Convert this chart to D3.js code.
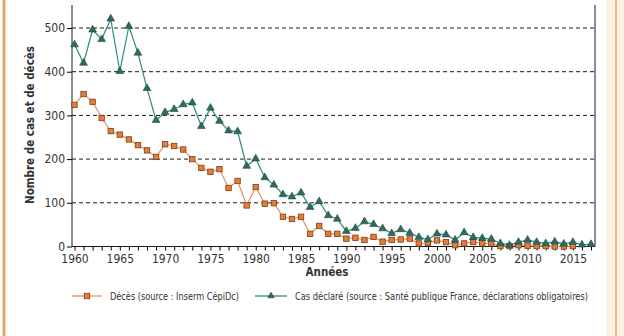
<!DOCTYPE html>
<html><head><meta charset="utf-8">
<script src="https://cdn.jsdelivr.net/npm/d3@7"></script>
<style>body{margin:0;background:#fff}svg{display:block}</style>
</head><body><svg id="c" width="624" height="336"></svg>
<script>
const years = d3.range(1960, 2018);
const decesYears = d3.range(1960, 2016);
const deces = [324,349,331,294,264,256,245,232,220,205,
  234,230,222,200,180,171,177,134,150,94,
  136,98,99,68,63,68,29,47,29,29,
  18,20,15,22,11,15,16,18,7,8,
  14,10,3,7,10,7,7,1,1,3,
  2,1,1,0,0,1];
const cas = [462,420,496,474,521,401,504,443,362,289,
  307,314,325,329,275,317,287,265,263,184,
  201,158,141,119,114,123,90,103,71,63,
  35,42,57,51,41,30,39,31,21,16,
  29,27,15,32,21,19,17,7,3,10,
  15,10,7,11,6,10,4,5];
const yTicks = [0,100,200,300,400,500];
const xTicks = [1960,1965,1970,1975,1980,1985,1990,1995,2000,2005,2010,2015];
const legendLabels = ["Décès (source : Inserm CépiDc)", "Cas déclaré (source : Santé publique France, déclarations obligatoires)"];

const svg = d3.select("#c");
const L = 72, R = 595, B = 246.5, T = 5;
const x = d3.scaleLinear().domain([1960, 2017]).range([74.5, 591]);
const y = d3.scaleLinear().domain([0, 500]).range([B, 28]);
const font = "'DejaVu Sans Condensed','Liberation Sans Narrow','Roboto',sans-serif";
const narrow = "'Liberation Sans Narrow','DejaVu Sans Condensed',sans-serif";

// page border decoration
svg.append("line").attr("x1",4).attr("x2",4).attr("y1",0).attr("y2",336).attr("stroke","#e2a86e").attr("stroke-width",3);
svg.append("rect").attr("x",606).attr("y",0).attr("width",18).attr("height",336).attr("fill","#fdf1e3");
svg.append("line").attr("x1",616).attr("x2",616).attr("y1",0).attr("y2",336).attr("stroke","#e8b888").attr("stroke-width",2);

// gridlines
svg.append("g").selectAll("line").data(yTicks.filter(d=>d>0)).join("line")
  .attr("x1",L).attr("x2",R).attr("y1",d=>y(d)).attr("y2",d=>y(d))
  .attr("stroke","#1a1a1a").attr("stroke-width",1).attr("stroke-dasharray","4,3");

// right frame
svg.append("line").attr("x1",R).attr("x2",R).attr("y1",T).attr("y2",B).attr("stroke","#1a1a1a");

// y axis
const ya = svg.append("g").attr("transform",`translate(${L},0)`)
  .call(d3.axisLeft(y).tickValues(yTicks).tickSize(5).tickPadding(2).tickSizeOuter(0));
ya.select(".domain").attr("d",`M0,${T}V${B}`).attr("stroke","#1a1a1a");
ya.selectAll("text").attr("font-family",font).attr("font-size",12).attr("fill","#333");

// x axis
const xa = svg.append("g").attr("transform",`translate(0,${B})`)
  .call(d3.axisBottom(x).tickValues(years).tickSize(4).tickFormat(""));
xa.select(".domain").attr("d",`M${L},0H${R}`).attr("stroke","#1a1a1a");
const xl = svg.append("g").attr("transform",`translate(0,${B})`)
  .call(d3.axisBottom(x).tickValues(xTicks).tickSize(0).tickPadding(8).tickFormat(d3.format("d")));
xl.select(".domain").remove();
xl.selectAll("text").attr("font-family",font).attr("font-size",12).attr("fill","#333");

// axis titles
svg.append("text").attr("x",327).attr("y",276).attr("text-anchor","middle")
  .attr("font-family",font).attr("font-weight","bold").attr("font-size",11.5).attr("fill","#333").text("Années");
svg.append("text").attr("transform","translate(34,125) rotate(-90)").attr("text-anchor","middle")
  .attr("font-family",font).attr("font-weight","bold").attr("font-size",11.5).attr("fill","#333").text("Nombre de cas et de décès");

const orangeLine = "#e0935c", orangeFill = "#e47d3c", orangeStroke = "#7e3e14";
const tealLine = "#2f8a80", tealFill = "#2e6b60", tealStroke = "#1c4840";
const tri = d3.symbol().type(d3.symbolTriangle).size(26);

const line = d3.line().x(d=>x(d[0])).y(d=>y(d[1]));
const dData = decesYears.map((yr,i)=>[yr,deces[i]]);
const cData = years.map((yr,i)=>[yr,cas[i]]);

svg.append("path").datum(dData).attr("d",line).attr("fill","none").attr("stroke",orangeLine).attr("stroke-width",1.2);
svg.append("path").datum(cData).attr("d",line).attr("fill","none").attr("stroke",tealLine).attr("stroke-width",1.2);

svg.append("g").selectAll("rect").data(dData).join("rect")
  .attr("x",d=>x(d[0])-2.7).attr("y",d=>y(d[1])-2.7).attr("width",5.4).attr("height",5.4)
  .attr("fill",orangeFill).attr("stroke",orangeStroke).attr("stroke-width",0.8);
svg.append("g").selectAll("path").data(cData).join("path")
  .attr("d",tri).attr("transform",d=>`translate(${x(d[0])},${y(d[1])})`)
  .attr("fill",tealFill).attr("stroke",tealStroke).attr("stroke-width",0.6);

// legend
const lg = svg.append("g");
lg.append("line").attr("x1",72).attr("x2",102).attr("y1",296).attr("y2",296).attr("stroke",orangeLine).attr("stroke-width",1.3);
lg.append("rect").attr("x",84.3).attr("y",293.3).attr("width",5.4).attr("height",5.4).attr("fill",orangeFill).attr("stroke",orangeStroke).attr("stroke-width",0.8);
lg.append("text").attr("x",110).attr("y",300).attr("font-family",narrow).attr("font-size",10).attr("fill","#333")
  .attr("textLength",129).attr("lengthAdjust","spacingAndGlyphs").text(legendLabels[0]);
lg.append("line").attr("x1",255).attr("x2",287).attr("y1",296).attr("y2",296).attr("stroke",tealLine).attr("stroke-width",1.3);
lg.append("path").attr("d",d3.symbol().type(d3.symbolTriangle).size(18)).attr("transform","translate(271,296)").attr("fill",tealFill).attr("stroke",tealStroke).attr("stroke-width",0.6);
lg.append("text").attr("x",295).attr("y",300).attr("font-family",narrow).attr("font-size",10).attr("fill","#333")
  .attr("textLength",293).attr("lengthAdjust","spacingAndGlyphs").text(legendLabels[1]);
</script></body></html>
